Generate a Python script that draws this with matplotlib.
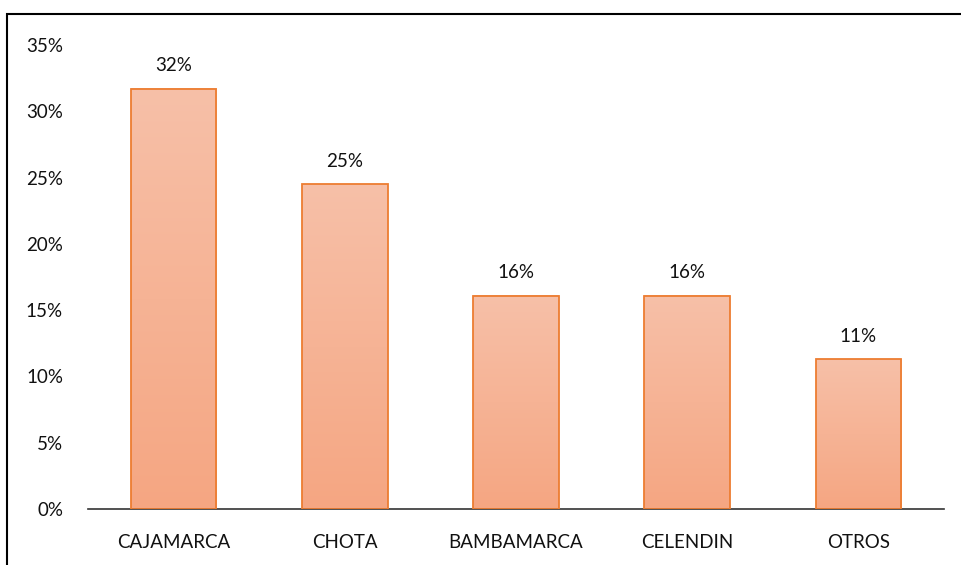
import matplotlib.pyplot as plt
import numpy as np
from matplotlib.colors import LinearSegmentedColormap
from matplotlib.patches import Rectangle

categories = ["CAJAMARCA", "CHOTA", "BAMBAMARCA", "CELENDIN", "OTROS"]
values = [31.7, 24.5, 16.1, 16.1, 11.3]
labels = ["32%", "25%", "16%", "16%", "11%"]

plt.rcParams['font.family'] = ['Lato', 'DejaVu Sans']

fig = plt.figure(figsize=(9.62, 5.65), dpi=100)
ax = fig.add_axes([88/962, 1-509/565, (944-88)/962, (509-45)/565])

# frame around the chart (only left/top visible in the picture)
fig.patches.append(Rectangle((7/962, -0.05), 1.1, 1-14/565+0.05, transform=fig.transFigure,
                             fill=False, edgecolor='black', linewidth=1.5))

x = np.arange(len(categories))
width = 0.5
cmap = LinearSegmentedColormap.from_list("peach", ["#F5A682", "#F7C0A8"])
grad = np.linspace(0, 1, 256).reshape(-1, 1)

bars = ax.bar(x, values, width=width, color='none', edgecolor='#ED7D31', linewidth=1.3, zorder=3)
for b in bars:
    x0, y0 = b.get_x(), b.get_y()
    w, h = b.get_width(), b.get_height()
    ax.imshow(grad, cmap=cmap, origin='lower', aspect='auto',
              extent=[x0, x0 + w, y0, y0 + h], zorder=2)

for i in range(len(x)):
    ax.text(x[i], values[i] + 1.1, labels[i], ha='center', va='bottom', fontsize=13.5, color='#111111')

ax.set_xlim(-0.5, len(categories) - 0.5)
ax.set_ylim(0, 35)
ax.set_yticks(np.arange(0, 36, 5))
ax.set_yticklabels([f"{v}%" for v in range(0, 36, 5)])
ax.set_xticks(x)
ax.set_xticklabels(categories)
ax.tick_params(axis='both', length=0, labelsize=13.5, colors='#111111')
ax.tick_params(axis='x', pad=18)
ax.tick_params(axis='y', pad=18)
for s in ['top', 'right', 'left']:
    ax.spines[s].set_visible(False)
ax.spines['bottom'].set_color('#333333')
ax.spines['bottom'].set_linewidth(1.2)

fig.savefig("out.png", dpi=100)
